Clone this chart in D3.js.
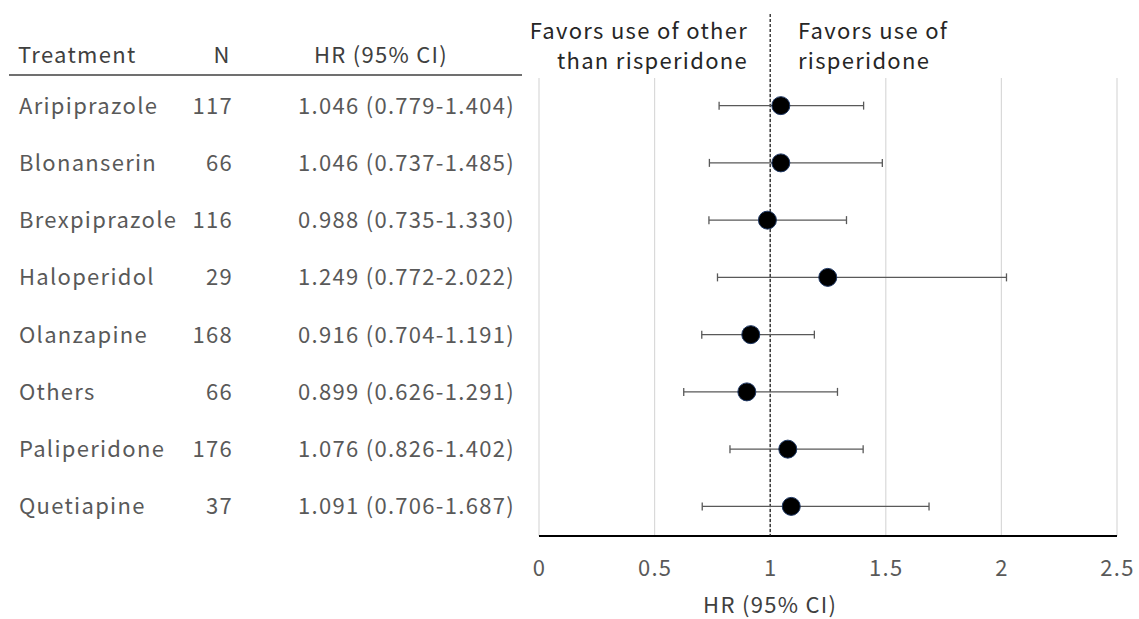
<!DOCTYPE html>
<html><head><meta charset="utf-8">
<script src="https://cdn.jsdelivr.net/npm/d3@7"></script>
<style>body{margin:0;background:#fff}svg{display:block}text{font-family:"Noto Sans CJK JP","Noto Sans",sans-serif;letter-spacing:1.3px}</style>
</head><body>
<svg id="c" width="1139" height="619"></svg>
<script>
const treatments = ["Aripiprazole","Blonanserin","Brexpiprazole","Haloperidol","Olanzapine","Others","Paliperidone","Quetiapine"];
const nValues = [117,66,116,29,168,66,176,37];
const hr = [1.046,1.046,0.988,1.249,0.916,0.899,1.076,1.091];
const lower = [0.779,0.737,0.735,0.772,0.704,0.626,0.826,0.706];
const upper = [1.404,1.485,1.330,2.022,1.191,1.291,1.402,1.687];
const xTicks = [0,0.5,1,1.5,2,2.5];
const headers = ["Treatment","N","HR (95% CI)"];

const svg = d3.select("#c");
const x = d3.scaleLinear().domain([0,2.5]).range([539,1117]);
const y = d3.scaleBand().domain(treatments).range([78,536]).paddingInner(0).paddingOuter(0);
const yc = d => y(d) + y.bandwidth()/2 - 1;
const fs = 22;

// gridlines
svg.append("g").selectAll("line").data(xTicks).join("line")
  .attr("x1",d=>x(d)).attr("x2",d=>x(d)).attr("y1",78).attr("y2",536)
  .attr("stroke","#d9d9d9").attr("stroke-width",1.2);

// axis
const ax = svg.append("g").attr("transform","translate(0,536)")
  .call(d3.axisBottom(x).tickValues(xTicks).tickSize(0).tickPadding(24).tickFormat(d=>d3.format("")(d)));
ax.select(".domain").attr("stroke","#000").attr("stroke-width",1.8).attr("d","M"+x(0)+",0H"+x(2.5));
ax.selectAll("text").attr("font-size",fs).attr("fill","#595959")
  .style("font-family",'"Noto Sans CJK JP","Noto Sans",sans-serif');

svg.append("text").attr("x",x(1)).attr("y",613).attr("text-anchor","middle")
  .attr("font-size",fs).attr("fill","#404040").text("HR (95% CI)");

// reference line
svg.append("line").attr("x1",x(1)).attr("x2",x(1)).attr("y1",14).attr("y2",536)
  .attr("stroke","#222").attr("stroke-width",1.3).attr("stroke-dasharray","3,2");

// favors labels
const fl = svg.append("text").attr("text-anchor","end").attr("font-size",fs).attr("fill","#262626");
fl.append("tspan").attr("x",748).attr("y",39).text("Favors use of other");
fl.append("tspan").attr("x",748).attr("y",69).text("than risperidone");
const fr = svg.append("text").attr("text-anchor","start").attr("font-size",fs).attr("fill","#262626");
fr.append("tspan").attr("x",798).attr("y",39).text("Favors use of");
fr.append("tspan").attr("x",798).attr("y",69).text("risperidone");

// error bars
const rows = treatments.map((t,i)=>({t,n:nValues[i],hr:hr[i],lo:lower[i],hi:upper[i]}));
const eb = svg.append("g").selectAll("g").data(rows).join("g");
eb.append("line").attr("x1",d=>x(d.lo)).attr("x2",d=>x(d.hi)).attr("y1",d=>yc(d.t)).attr("y2",d=>yc(d.t))
  .attr("stroke","#595959").attr("stroke-width",1.3);
eb.append("line").attr("x1",d=>x(d.lo)).attr("x2",d=>x(d.lo)).attr("y1",d=>yc(d.t)-4).attr("y2",d=>yc(d.t)+4)
  .attr("stroke","#595959").attr("stroke-width",1.3);
eb.append("line").attr("x1",d=>x(d.hi)).attr("x2",d=>x(d.hi)).attr("y1",d=>yc(d.t)-4).attr("y2",d=>yc(d.t)+4)
  .attr("stroke","#595959").attr("stroke-width",1.3);
eb.append("circle").attr("cx",d=>x(d.hr)).attr("cy",d=>yc(d.t)).attr("r",9)
  .attr("fill","#000").attr("stroke","#1f3864").attr("stroke-width",1);

// table header
svg.append("text").attr("x",18).attr("y",63).attr("font-size",fs).attr("fill","#404040").text(headers[0]);
svg.append("text").attr("x",222).attr("y",63).attr("text-anchor","middle").attr("font-size",fs).attr("fill","#404040").text(headers[1]);
svg.append("text").attr("x",381).attr("y",63).attr("text-anchor","middle").attr("font-size",fs).attr("fill","#404040").text(headers[2]);
svg.append("line").attr("x1",9).attr("x2",522).attr("y1",75).attr("y2",75).attr("stroke","#404040").attr("stroke-width",1.5);

// table rows
const tr = svg.append("g").selectAll("g").data(rows).join("g");
tr.append("text").attr("x",19).attr("y",d=>yc(d.t)+8).attr("font-size",fs).attr("fill","#595959").text(d=>d.t);
tr.append("text").attr("x",233).attr("y",d=>yc(d.t)+8).attr("text-anchor","end").attr("font-size",fs).attr("fill","#595959").text(d=>d.n);
tr.append("text").attr("x",515).attr("y",d=>yc(d.t)+8).attr("text-anchor","end").attr("font-size",fs).attr("fill","#595959")
  .text(d=>d3.format(".3f")(d.hr)+" ("+d3.format(".3f")(d.lo)+"-"+d3.format(".3f")(d.hi)+")");
</script>
</body></html>
